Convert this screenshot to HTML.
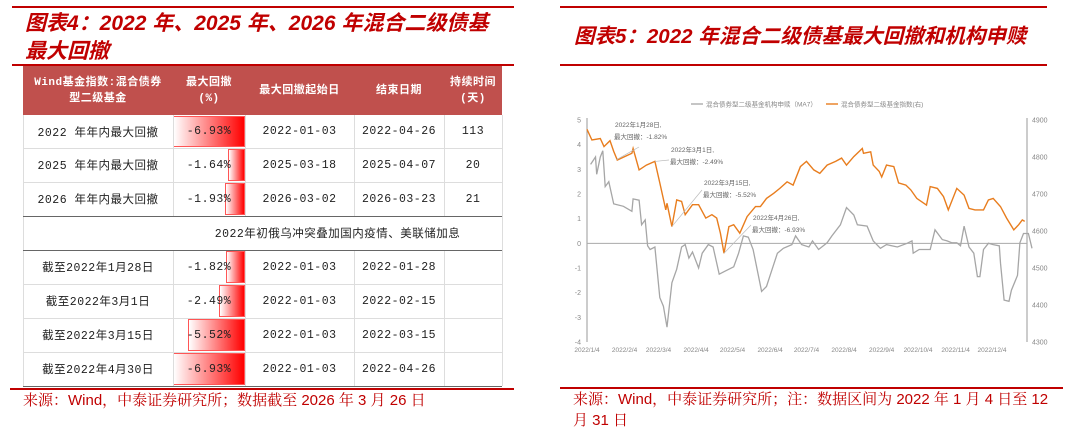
<!DOCTYPE html>
<html><head><meta charset="utf-8">
<style>
*{margin:0;padding:0;box-sizing:border-box}
body{width:1080px;height:428px;background:#fff;position:relative;overflow:hidden;font-family:"Liberation Sans","Noto Sans CJK SC",sans-serif}
.abs{position:absolute}
.rl{position:absolute;height:2px;background:#c00000}
.ttl{position:absolute;color:#c00000;font-weight:bold;font-style:italic;font-size:21px;line-height:28px;letter-spacing:0px;font-family:"Liberation Sans","Noto Sans CJK SC",sans-serif;white-space:nowrap}
.src{position:absolute;color:#c00000;font-size:15px;font-family:"Liberation Sans","Noto Serif CJK SC",serif;white-space:nowrap}
.cell{position:absolute;display:flex;align-items:center;justify-content:center;text-align:center;font-size:11.5px;color:#222;font-family:"Liberation Mono","Noto Sans CJK SC",monospace;letter-spacing:0.5px}
.hd{color:#fff;font-weight:bold;background:#c0504d;font-size:11px;line-height:16px}
.bar{position:absolute;background:linear-gradient(to right,#fff 0%,#ff8080 50%,#f00 100%);border:1px solid #f55}
.hl{position:absolute;left:23px;width:479px;height:1px;background:#ddd}
.vl{position:absolute;width:1px;background:#ddd}
</style></head><body>
<div class="rl" style="left:12px;top:6px;width:502px"></div>
<div class="ttl" style="left:25px;top:10px;width:490px">图表4：2022 年、2025 年、2026 年混合二级债基<br>最大回撤</div>
<div class="rl" style="left:12px;top:64px;width:502px;height:1.5px"></div>

<div>
<div class="cell hd" style="left:23px;top:66px;width:150px;height:49px">Wind基金指数:混合债券<br>型二级基金</div>
<div class="cell hd" style="left:173px;top:66px;width:72px;height:49px">最大回撤<br>(%)</div>
<div class="cell hd" style="left:245px;top:66px;width:109px;height:49px">最大回撤起始日</div>
<div class="cell hd" style="left:354px;top:66px;width:90px;height:49px">结束日期</div>
<div class="cell hd" style="left:444px;top:66px;width:58px;height:49px">持续时间<br>(天)</div>
</div>
<div id="rows"></div>
<div class="cell" style="left:173px;top:216px;width:329px;height:34px">2022年初俄乌冲突叠加国内疫情、美联储加息</div>
<div class="hl" style="top:250px;background:#666"></div>
<div class="hl" style="top:216px;background:#666"></div>
<div class="hl" style="top:386px;background:#666"></div>

<div class="rl" style="left:10px;top:388px;width:504px;height:1.5px"></div>
<div class="src" style="left:23px;top:389px">来源：Wind，中泰证券研究所；数据截至 2026 年 3 月 26 日</div>

<div class="rl" style="left:560px;top:6px;width:487px"></div>
<div class="ttl" style="left:574px;top:23px;font-size:20.5px">图表5：2022 年混合二级债基最大回撤和机构申赎</div>
<div class="rl" style="left:560px;top:64px;width:487px;height:1.5px"></div>

<svg class="abs" style="left:0;top:0" width="1080" height="428" id="chart"></svg>

<div class="rl" style="left:560px;top:387px;width:503px;height:1.5px"></div>
<div class="src" style="left:573px;top:389px;line-height:21px;width:500px">来源：Wind，中泰证券研究所；注：数据区间为 2022 年 1 月 4 日至 12<br>月 31 日</div>

<script>
// ---- table data ----
const rowLabels=["2022 年年内最大回撤","2025 年年内最大回撤","2026 年年内最大回撤","截至2022年1月28日","截至2022年3月1日","截至2022年3月15日","截至2022年4月30日"];
const drawdowns=[-6.93,-1.64,-1.93,-1.82,-2.49,-5.52,-6.93];
const startDates=["2022-01-03","2025-03-18","2026-03-02","2022-01-03","2022-01-03","2022-01-03","2022-01-03"];
const endDates=["2022-04-26","2025-04-07","2026-03-23","2022-01-28","2022-02-15","2022-03-15","2022-04-26"];
const durations=["113","20","21","","","",""];
const rowsEl=document.getElementById('rows');
const rowTops=[115,148,182,250,284,318,352];
function mk(cls,style,txt){const d=document.createElement('div');d.className=cls;d.style.cssText=style;if(txt!==undefined)d.textContent=txt;rowsEl.appendChild(d);return d;}
drawdowns.forEach((v,i)=>{
  const t=rowTops[i],h=(i==0?33:34);
  const w=Math.abs(v)/6.93*72;
  const b=mk('bar',`left:${245-w}px;top:${t+1}px;width:${w}px;height:${h-2}px`);
  
  
  const c1=mk('cell',`left:23px;top:${t}px;width:150px;height:${h}px`,rowLabels[i]);
  
  
  const c2=mk('cell',`left:173px;top:${t}px;width:72px;height:${h}px`,v.toFixed(2)+'%');
  
  
  const c3=mk('cell',`left:245px;top:${t}px;width:109px;height:${h}px`,startDates[i]);
  
  
  const c4=mk('cell',`left:354px;top:${t}px;width:90px;height:${h}px`,endDates[i]);
  
  
  const c5=mk('cell',`left:444px;top:${t}px;width:58px;height:${h}px`,durations[i]);
  
  
  if(i!=2&&i!=6){const l=mk('hl',`top:${t+h}px`);
  
  }
});
[173,245,354,444].forEach(x=>{[[115,216],[250,386]].forEach(([a,b])=>{const l=mk('vl',`left:${x}px;top:${a}px;height:${b-a}px`);

});});
[23,502].forEach(x=>{const l=mk('vl',`left:${x}px;top:115px;height:271px`);

});

// ---- chart data ----
const monthTicks=["2022/1/4","2022/2/4","2022/3/4","2022/4/4","2022/5/4","2022/6/4","2022/7/4","2022/8/4","2022/9/4","2022/10/4","2022/11/4","2022/12/4"];
const monthTickDays=[0,31,59,90,120,151,181,212,243,273,304,334];
const leftTicks=[5,4,3,2,1,0,-1,-2,-3,-4];
const rightTicks=[4900,4800,4700,4600,4500,4400,4300];
const indexDays=[0,4,11,14,19,22,25,37,38,43,49,56,60,65,66,70,74,78,81,87,92,98,103,107,110,113,117,121,126,132,139,143,148,154,159,165,170,176,181,187,192,198,205,210,214,220,227,228,234,236,241,243,247,253,257,263,267,272,280,283,289,294,298,305,311,315,320,327,331,335,341,346,352,356,359,361];
const indexVals=[4875,4846,4850,4828,4844,4815,4792,4810,4823,4765,4778,4788,4730,4657,4675,4612,4684,4680,4644,4671,4671,4635,4644,4635,4594,4540,4612,4617,4594,4639,4666,4666,4688,4702,4715,4733,4724,4774,4788,4765,4756,4778,4788,4797,4778,4801,4823,4810,4814,4778,4761,4746,4778,4774,4730,4724,4711,4688,4670,4720,4715,4693,4657,4715,4697,4661,4657,4657,4684,4688,4666,4635,4603,4617,4630,4626];
const flowDays=[3,7,8,11,13,15,18,22,30,37,38,43,45,48,50,52,56,60,63,66,70,74,78,81,84,87,92,95,100,104,109,113,121,125,129,133,137,144,148,151,157,162,169,172,177,183,186,191,198,202,209,214,220,223,231,236,242,247,256,264,268,269,274,283,287,293,297,301,305,308,311,315,319,322,324,327,331,335,340,341,344,348,350,355,357,360,364,367];
const flowVals=[3.2,3.5,2.8,3.5,3.75,2.3,2.5,1.6,1.5,1.3,1.8,1.75,0.75,0.95,-0.1,-0.25,-0.15,-2.2,-2.55,-3.4,-1.6,-1.05,-0.15,-0.05,-0.6,-0.35,-1.0,-0.4,-0.05,-0.15,-1.25,-1.15,-0.95,-0.4,0.3,0.25,-0.25,-1.95,-1.75,-1.3,-0.4,-0.2,-0.05,0.3,-0.05,-0.15,0.1,-0.25,0.02,0.3,0.75,1.45,1.15,0.75,0.7,0.1,-0.2,-0.05,-0.15,0,0.1,-0.4,-0.25,-0.25,0.55,0.15,0.1,0.02,0.02,-0.1,0.7,-0.15,-0.4,-1.35,-1.35,-0.25,0,-0.05,-0.1,-0.8,-2.3,-2.35,-1.9,-1.3,0.02,0.4,0.4,-0.2];
const annTitles=["2022年1月28日,","2022年3月1日,","2022年3月15日,","2022年4月26日,"];
const annValues=["最大回撤：-1.82%","最大回撤：-2.49%","最大回撤：-5.52%","最大回撤：-6.93%"];
const annDays=[24,56,70,113];
const annIdx=[4792,4788,4612,4540];

const X0=587,XD=(992-587)/334;
const xS=d=>X0+d*XD;
const yL=v=>120+(5-v)/9*222;
const yR=v=>120+(4900-v)/600*222;
const svg=document.getElementById('chart');
const NS='http://www.w3.org/2000/svg';
function el(tag,attrs,txt){const e=document.createElementNS(NS,tag);for(const k in attrs)e.setAttribute(k,attrs[k]);if(txt!==undefined)e.textContent=txt;svg.appendChild(e);return e;}
const F='"Liberation Sans","Noto Sans CJK SC",sans-serif';
let a=el('line',{x1:587,y1:118,x2:587,y2:342,stroke:'#999','stroke-width':1});


a=el('line',{x1:1027,y1:118,x2:1027,y2:342,stroke:'#999','stroke-width':1});


a=el('line',{x1:587,y1:yL(0),x2:1027,y2:yL(0),stroke:'#aaa','stroke-width':1});


leftTicks.forEach(v=>{const t=el('text',{x:581,y:yL(v)+2.5,'font-size':7,fill:'#888','text-anchor':'end','font-family':F},v);

});
rightTicks.forEach(v=>{const t=el('text',{x:1032,y:yR(v)+2.5,'font-size':7,fill:'#888','font-family':F},v);

});
monthTicks.forEach((m,i)=>{const t=el('text',{x:xS(monthTickDays[i]),y:352,'font-size':6.5,fill:'#888','text-anchor':'middle','font-family':F},m);

});
let p=el('path',{d:flowDays.map((d,i)=>(i?'L':'M')+xS(d).toFixed(1)+','+yL(flowVals[i]).toFixed(1)).join(''),fill:'none',stroke:'#a6a6a6','stroke-width':1.3});


p=el('path',{d:indexDays.map((d,i)=>(i?'L':'M')+xS(d).toFixed(1)+','+yR(indexVals[i]).toFixed(1)).join(''),fill:'none',stroke:'#e87d1e','stroke-width':1.4});


const annPos=[[615,127],[671,152],[704,185],[753,220]];
annTitles.forEach((s,i)=>{
  const [tx,ty]=annPos[i];
  const l=el('line',{x1:xS(annDays[i]),y1:yR(annIdx[i]),x2:tx+(i==0?24:-2),y2:ty+(i==0?20:i==1?8:5),stroke:'#bbb','stroke-width':0.7});
  
  
  const t1=el('text',{x:tx,y:ty,'font-size':6.5,fill:'#666','font-family':F},s);
  
  
  const t2=el('text',{x:tx-1,y:ty+12,'font-size':6.5,fill:'#666','font-family':F},annValues[i]);
  
  
});
let g=el('line',{x1:691,y1:104,x2:703,y2:104,stroke:'#a6a6a6','stroke-width':1.3});


g=el('text',{x:706,y:106.5,'font-size':6.5,fill:'#888','font-family':F},'混合债券型二级基金机构申赎（MA7）');


g=el('line',{x1:826,y1:104,x2:838,y2:104,stroke:'#e87d1e','stroke-width':1.4});


g=el('text',{x:841,y:106.5,'font-size':6.5,fill:'#888','font-family':F},'混合债券型二级基金指数(右)');


</script>
</body></html>
